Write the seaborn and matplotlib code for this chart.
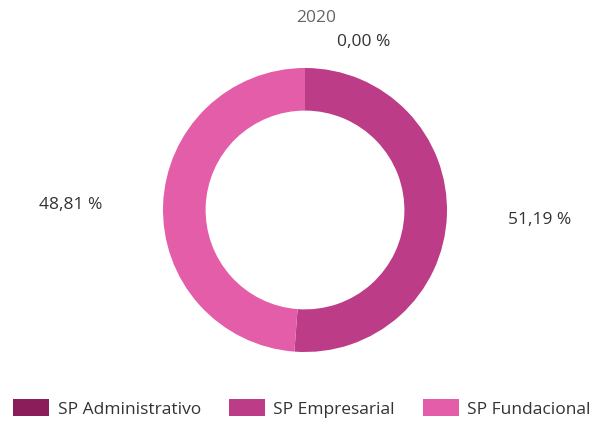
import numpy as np
import matplotlib
matplotlib.use("Agg")
import matplotlib.pyplot as plt
from matplotlib.patches import Patch
import seaborn as sns

# Data
year = "2020"
categories = ["SP Administrativo", "SP Empresarial", "SP Fundacional"]
shares = [0.00, 51.19, 48.81]
colors = ["#8C1D5B", "#BC3C88", "#E35DA8"]

sns.set_theme(style="white")
plt.rcParams["font.family"] = ["Open Sans", "DejaVu Sans"]

W, H, DPI = 600, 427, 100
FS = 12.5
fig = plt.figure(figsize=(W / DPI, H / DPI), dpi=DPI)
fig.patch.set_facecolor("white")

# Axes: radius 1 in data units = 142 px, ring centred at (305, 211) from top-left
R_PX = 142
cx, cy = 305, H - 211
ax_w, ax_h = 580, 380
ax = fig.add_axes([(cx - ax_w / 2) / W, (cy - ax_h / 2) / H, ax_w / W, ax_h / H])

wedges, _ = ax.pie(
    shares,
    colors=colors,
    startangle=90,
    counterclock=False,
    radius=1.0,
    wedgeprops=dict(width=0.30, edgecolor="none"),
)
ax.set_xlim(-ax_w / 2 / R_PX, ax_w / 2 / R_PX)
ax.set_ylim(-ax_h / 2 / R_PX, ax_h / 2 / R_PX)
ax.set_aspect("equal")
ax.axis("off")

def fmt(v):
    return f"{v:.2f}".replace(".", ",") + " %"

label_color = "#333333"
dist = 1.65
for w, v in zip(wedges, shares):
    ang = np.deg2rad((w.theta1 + w.theta2) / 2)
    if v <= 0:
        # zero-size slice: label sits above the ring, to the right of the title
        ax.text(0.41, 1.19, fmt(v), ha="center", va="center",
                fontsize=FS, color=label_color, clip_on=False)
        continue
    x, y = dist * np.cos(ang), dist * np.sin(ang)
    if x < 0:
        y = abs(y) - 0.02
    ax.text(x, y, fmt(v), ha="center", va="center",
            fontsize=FS, color=label_color, clip_on=False)

fig.text(316 / W, 1 - 18 / H, year, ha="center", va="center",
         fontsize=FS, color="#666666")

handles = [Patch(facecolor=c, edgecolor="none") for c in colors]
fig.legend(
    handles, categories,
    loc="center left", bbox_to_anchor=(13 / W, 1 - 409 / H),
    ncol=3, frameon=False, fontsize=FS,
    handlelength=2.07, handleheight=1.1, handletextpad=0.5,
    columnspacing=1.6, borderaxespad=0, borderpad=0, labelcolor="#333333",
)

fig.savefig("out.png", dpi=DPI, facecolor="white")
